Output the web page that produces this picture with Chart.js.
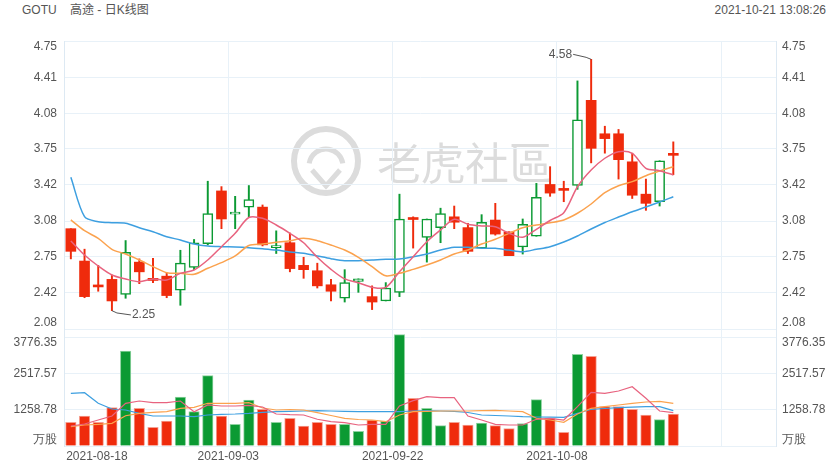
<!DOCTYPE html>
<html>
<head>
<meta charset="utf-8">
<script src="https://cdn.jsdelivr.net/npm/chart.js@4.4.1/dist/chart.umd.min.js"></script>
<style>
  html, body { margin: 0; padding: 0; background: #fff; }
  #wrap { position: relative; width: 840px; height: 470px; font-family: "Liberation Sans", Arial, "Noto Sans CJK SC", sans-serif; color: #555; }
  .hdr { position: absolute; top: 3px; font-size: 12px; line-height: 14px; white-space: nowrap; }
  canvas { position: absolute; left: 0; top: 0; }
</style>
</head>
<body>
<div id="wrap">
  <div class="hdr" style="left:22px">GOTU</div>
  <div class="hdr" style="left:70px">高途 - 日K线图</div>
  <div class="hdr" style="right:14px">2021-10-21 13:08:26</div>
  <canvas id="kChart" width="840" height="470"></canvas>
</div>
<script>
const DATES = [
  "2021-08-18", "2021-08-19", "2021-08-20", "2021-08-23", "2021-08-24", "2021-08-25", "2021-08-26", "2021-08-27", "2021-08-30", "2021-08-31",
  "2021-09-01", "2021-09-02", "2021-09-03", "2021-09-07", "2021-09-08", "2021-09-09", "2021-09-10", "2021-09-13", "2021-09-14", "2021-09-15",
  "2021-09-16", "2021-09-17", "2021-09-20", "2021-09-21", "2021-09-22", "2021-09-23", "2021-09-24", "2021-09-27", "2021-09-28", "2021-09-29",
  "2021-09-30", "2021-10-01", "2021-10-04", "2021-10-05", "2021-10-06", "2021-10-07", "2021-10-08", "2021-10-11", "2021-10-12", "2021-10-13",
  "2021-10-14", "2021-10-15", "2021-10-18", "2021-10-19", "2021-10-20",
];
const OPEN = [3.01, 2.71, 2.475, 2.54, 2.40, 2.70, 2.55, 2.57, 2.44, 2.65, 2.87, 3.36, 3.145, 3.21, 3.21, 2.835, 2.88, 2.67, 2.62, 2.49, 2.365, 2.52, 2.38, 2.34, 2.42, 3.10, 2.93, 3.02, 3.12, 3.02, 2.83, 3.09, 2.98, 2.84, 2.94, 3.42, 3.37, 3.41, 4.20, 3.89, 3.89, 3.63, 3.33, 3.26, 3.695];
const HIGH = [3.01, 2.82, 2.67, 2.58, 2.90, 2.73, 2.735, 2.60, 2.81, 2.91, 3.45, 3.40, 3.31, 3.41, 3.23, 2.99, 2.97, 2.745, 2.69, 2.54, 2.63, 2.545, 2.48, 2.51, 3.33, 3.12, 3.10, 3.20, 3.22, 3.06, 3.14, 3.245, 2.98, 3.10, 3.43, 3.585, 3.45, 4.38, 4.58, 3.96, 3.93, 3.71, 3.47, 3.64, 3.815];
const LOW = [2.73, 2.37, 2.43, 2.25, 2.365, 2.50, 2.51, 2.37, 2.30, 2.63, 2.86, 3.01, 3.01, 3.12, 2.85, 2.78, 2.61, 2.55, 2.46, 2.34, 2.33, 2.42, 2.26, 2.34, 2.38, 2.83, 2.70, 2.88, 3.01, 2.78, 2.83, 2.95, 2.76, 2.775, 2.94, 3.31, 3.26, 3.375, 3.62, 3.71, 3.47, 3.29, 3.18, 3.22, 3.51];
const CLOSE = [2.80, 2.38, 2.47, 2.34, 2.79, 2.61, 2.53, 2.39, 2.69, 2.88, 3.15, 3.10, 3.155, 3.28, 2.86, 2.845, 2.64, 2.63, 2.48, 2.43, 2.51, 2.545, 2.33, 2.46, 3.10, 3.095, 3.10, 3.15, 3.07, 2.80, 3.07, 2.96, 2.76, 3.05, 3.30, 3.34, 3.365, 4.02, 3.755, 3.845, 3.65, 3.32, 3.245, 3.64, 3.69];

const MA5 = [2.896, 2.766, 2.664, 2.581, 2.544, 2.519, 2.544, 2.534, 2.596, 2.627, 2.720, 2.843, 2.967, 3.114, 3.106, 3.044, 2.967, 2.880, 2.745, 2.633, 2.544, 2.509, 2.467, 2.465, 2.611, 2.750, 2.889, 2.998, 3.097, 3.051, 3.035, 3.028, 2.967, 2.930, 3.004, 3.086, 3.158, 3.399, 3.554, 3.663, 3.724, 3.709, 3.570, 3.548, 3.508];
const MA10 = [3.091, 2.991, 2.921, 2.819, 2.775, 2.720, 2.658, 2.602, 2.596, 2.587, 2.643, 2.695, 2.757, 2.854, 2.868, 2.884, 2.899, 2.921, 2.899, 2.859, 2.812, 2.745, 2.658, 2.573, 2.596, 2.633, 2.673, 2.720, 2.775, 2.812, 2.868, 2.912, 2.967, 3.019, 3.044, 3.065, 3.091, 3.153, 3.239, 3.344, 3.408, 3.446, 3.501, 3.545, 3.585];
const MA20 = [3.486, 3.121, 3.075, 3.065, 3.060, 3.019, 2.982, 2.936, 2.905, 2.868, 2.849, 2.843, 2.840, 2.834, 2.824, 2.812, 2.794, 2.782, 2.757, 2.732, 2.713, 2.713, 2.720, 2.726, 2.729, 2.750, 2.775, 2.812, 2.837, 2.837, 2.828, 2.828, 2.812, 2.797, 2.819, 2.843, 2.886, 2.942, 3.007, 3.067, 3.118, 3.167, 3.211, 3.257, 3.306];

// volume in 万股
const VOLUME = [829, 1049, 829, 1340, 3322, 1318, 654, 874, 1713, 1200, 2459, 1049, 758, 1608, 1283, 829, 969, 699, 829, 759, 759, 514, 909, 874, 3892, 1668, 1318, 710, 829, 734, 804, 710, 606, 781, 1620, 969, 478, 3205, 3136, 1375, 1375, 1283, 1084, 920, 1119];
const VOL_MA5 = [699, 769, 909, 1049, 1493, 1573, 1514, 1514, 1573, 1199, 1434, 1399, 1399, 1423, 1364, 1119, 1094, 1084, 934, 850, 815, 734, 759, 759, 1399, 1584, 1724, 1689, 1689, 1049, 909, 759, 734, 734, 934, 969, 909, 1374, 1878, 1843, 1923, 2073, 1668, 1224, 1164];
const VOL_MA10 = [675, 734, 759, 794, 1059, 1143, 1178, 1199, 1318, 1353, 1493, 1493, 1493, 1514, 1329, 1259, 1276, 1259, 1164, 1066, 969, 927, 909, 850, 1084, 1199, 1213, 1224, 1224, 1224, 1234, 1248, 1224, 1199, 969, 909, 829, 1119, 1318, 1374, 1434, 1493, 1539, 1563, 1493];
const VOL_MA20 = [1843, 1864, 1493, 1294, 1259, 1143, 1049, 1049, 1049, 1025, 1084, 1108, 1119, 1143, 1178, 1199, 1213, 1224, 1234, 1224, 1213, 1199, 1199, 1199, 1199, 1224, 1234, 1224, 1213, 1171, 1084, 1066, 1049, 1025, 1014, 1007, 1004, 1143, 1283, 1311, 1339, 1357, 1374, 1374, 1234];

const PRICE_TICKS = [2.08, 2.42, 2.75, 3.08, 3.42, 3.75, 4.08, 4.41, 4.75];
const VOLUME_TICKS = [0, 1258.78, 2517.57, 3776.35];
const VOLUME_UNIT = "万股";
const VOLUME_AXIS_MAX = 4090; // where the volume pane meets the price pane
const SLOTS = 52;             // the day axis has room for 52 sessions
const GRID_EVERY = 12;

const RED = "#ef2b0c";
const GREEN = "#0b9a33";
const GRID = "#e8f1f8";
const NONE = "rgba(0,0,0,0)";
const FONT = { family: "'Liberation Sans', Arial, sans-serif", size: 12 };

const up = CLOSE.map((c, i) => c > OPEN[i]);
const colors = up.map((u) => (u ? GREEN : RED));
const xy = (arr) => arr.map((v, i) => ({ x: i, y: v }));

// gridline ticks on the values, first and last label pulled inside the pane
function paneTicks(values, fmt, unitPerPx, nudgeLow, nudgeHigh) {
  const out = [];
  const last = values.length - 1;
  values.forEach((v, i) => {
    if (i === 0) {
      out.push({ value: v, text: "", grid: true });
      out.push({ value: v + nudgeLow * unitPerPx, text: fmt(v), grid: false });
    } else if (i === last) {
      out.push({ value: v, text: "", grid: true });
      out.push({ value: v - nudgeHigh * unitPerPx, text: fmt(v), grid: false });
    } else {
      out.push({ value: v, text: fmt(v), grid: true });
    }
  });
  return out;
}

const priceTicks = paneTicks(PRICE_TICKS, (v) => v.toFixed(2), (4.75 - 2.08) / 288, 6, 6);
const volumeTicks = paneTicks(VOLUME_TICKS, (v) => (v === 0 ? VOLUME_UNIT : v.toFixed(2)), VOLUME_AXIS_MAX / 117, 6, 5);

const xTicks = [{ value: 1.9, text: DATES[0], grid: false }];
for (let k = GRID_EVERY; k < SLOTS; k += GRID_EVERY) {
  xTicks.push({ value: k - 0.5, text: DATES[k] || "", grid: true });
}

function yAxis(side, stackWeight, weight, min, max, list, showGrid) {
  return {
    type: "linear",
    position: side,
    stack: side + "Pane",
    stackWeight: stackWeight,
    weight: weight,
    min: min,
    max: max,
    afterBuildTicks: (s) => { s.ticks = list.map((t) => ({ ...t })); },
    afterFit: (s) => { s.width = 64; },
    grid: { display: showGrid, drawTicks: false, color: (c) => (c.tick && c.tick.grid ? GRID : NONE) },
    border: { display: true, color: "#dde9f3" },
    ticks: {
      autoSkip: false,
      padding: side === "left" ? 7 : 6,
      color: "#555",
      font: FONT,
      callback: (v, i, ts) => ts[i].text,
    },
  };
}

const watermark = {
  id: "watermark",
  beforeDraw(chart) {
    const ctx = chart.ctx;
    ctx.save();
    ctx.strokeStyle = "#dcdcdc";
    ctx.fillStyle = "#dcdcdc";
    ctx.lineWidth = 6;
    ctx.beginPath();
    ctx.arc(326, 161, 32, 0, Math.PI * 2);
    ctx.stroke();
    ctx.lineWidth = 5;
    ctx.beginPath();
    ctx.arc(326, 166, 17, Math.PI * 1.05, Math.PI * 1.95);
    ctx.stroke();
    ctx.beginPath();
    ctx.moveTo(312, 170);
    ctx.lineTo(326, 186);
    ctx.lineTo(340, 170);
    ctx.stroke();
    ctx.font = "44px 'Noto Sans CJK TC'";
    ctx.textBaseline = "middle";
    ctx.fillText("老虎社區", 377, 163);
    ctx.restore();
  },
};

const extremeLabels = {
  id: "extremeLabels",
  afterDatasetsDraw(chart) {
    const { ctx, scales } = chart;
    const x = scales.x;
    const y = scales.yPrice;
    const hi = HIGH.indexOf(Math.max(...HIGH));
    const lo = LOW.indexOf(Math.min(...LOW));
    ctx.save();
    ctx.strokeStyle = "#555";
    ctx.fillStyle = "#555";
    ctx.lineWidth = 1;
    ctx.font = "12px 'Liberation Sans', Arial, sans-serif";
    ctx.textBaseline = "middle";

    let px = x.getPixelForValue(hi);
    let py = y.getPixelForValue(HIGH[hi]);
    ctx.beginPath();
    ctx.moveTo(px, py);
    ctx.lineTo(px - 5, py - 2);
    ctx.lineTo(px - 18, py - 5);
    ctx.stroke();
    ctx.textAlign = "right";
    ctx.fillText(HIGH[hi].toFixed(2), px - 19, py - 5);

    px = x.getPixelForValue(lo);
    py = y.getPixelForValue(LOW[lo]);
    ctx.beginPath();
    ctx.moveTo(px, py);
    ctx.lineTo(px + 5, py + 2.3);
    ctx.lineTo(px + 19, py + 4.3);
    ctx.stroke();
    ctx.textAlign = "left";
    ctx.fillText(LOW[lo].toFixed(2), px + 20, py + 4.5);
    ctx.restore();
  },
};

const line = (data, color, axis, width, tension) => ({
  type: "line",
  data: xy(data),
  yAxisID: axis,
  borderColor: color,
  borderWidth: width,
  pointRadius: 0,
  tension: tension,
  fill: false,
  order: 0,
});

const ctx = document.getElementById("kChart").getContext("2d");
const kChart = new Chart(ctx, {
  type: "bar",
  data: {
    datasets: [
      {
        // candle bodies
        data: DATES.map((d, i) => ({ x: i, y: [OPEN[i], CLOSE[i]] })),
        yAxisID: "yPrice",
        grouped: false,
        categoryPercentage: 1,
        barPercentage: 1,
        maxBarThickness: 10,
        minBarLength: 2,
        backgroundColor: up.map((u) => (u ? "#fff" : RED)),
        borderColor: colors,
        borderWidth: up.map((u) => (u ? 1.5 : 0)),
        borderSkipped: false,
        order: 1,
      },
      {
        // wicks
        data: DATES.map((d, i) => ({ x: i, y: [LOW[i], HIGH[i]] })),
        yAxisID: "yPrice",
        grouped: false,
        categoryPercentage: 1,
        barPercentage: 1,
        maxBarThickness: 1.3,
        backgroundColor: colors,
        order: 2,
      },
      line(MA5, "#e8637f", "yPrice", 1.5, 0.3),
      line(MA10, "#fba24e", "yPrice", 1.5, 0.3),
      line(MA20, "#3d9fe0", "yPrice", 1.5, 0.3),
      {
        data: xy(VOLUME),
        yAxisID: "yVol",
        grouped: false,
        categoryPercentage: 1,
        barPercentage: 1,
        maxBarThickness: 10.5,
        backgroundColor: colors,
        borderColor: up.map((u) => (u ? "#8fd3a1" : "#f5a092")),
        borderWidth: 1,
        order: 1,
      },
      line(VOL_MA5, "#e8637f", "yVol", 1.2, 0),
      line(VOL_MA10, "#fba24e", "yVol", 1.2, 0),
      line(VOL_MA20, "#3d9fe0", "yVol", 1.2, 0),
    ],
  },
  options: {
    responsive: false,
    animation: false,
    events: [],
    layout: { padding: { top: 41, left: 0, right: 0, bottom: 0 } },
    plugins: { legend: { display: false }, tooltip: { enabled: false } },
    scales: {
      x: {
        type: "linear",
        min: -0.5,
        max: SLOTS - 0.5,
        offset: false,
        afterBuildTicks: (s) => { s.ticks = xTicks.map((t) => ({ ...t })); },
        afterFit: (s) => { s.height = 24; },
        grid: { offset: false, drawTicks: false, color: (c) => (c.tick && c.tick.grid ? GRID : NONE) },
        border: { display: false },
        ticks: {
          autoSkip: false,
          maxRotation: 0,
          minRotation: 0,
          padding: 3,
          color: "#555",
          font: FONT,
          callback: (v, i, ts) => ts[i].text,
        },
      },
      yPrice: yAxis("left", 288, 2, 2.08, 4.75, priceTicks, true),
      yVol: yAxis("left", 117, 1, 0, VOLUME_AXIS_MAX, volumeTicks, true),
      yPriceR: yAxis("right", 288, 1, 2.08, 4.75, priceTicks, false),
      yVolR: yAxis("right", 117, 2, 0, VOLUME_AXIS_MAX, volumeTicks, false),
    },
  },
  plugins: [watermark, extremeLabels],
});
</script>
</body>
</html>
